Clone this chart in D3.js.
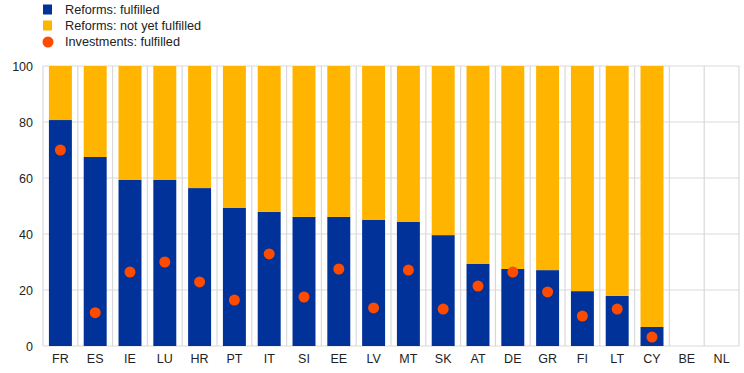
<!DOCTYPE html>
<html><head><meta charset="utf-8">
<script src="https://cdn.jsdelivr.net/npm/d3@7"></script>
<style>body{margin:0;background:#fff}svg{display:block;font-family:Arial,"Liberation Sans",sans-serif}</style>
</head><body><svg id="c" width="744" height="373"></svg>
<script>
const categories = ["FR","ES","IE","LU","HR","PT","IT","SI","EE","LV","MT","SK","AT","DE","GR","FI","LT","CY","BE","NL"];
const reformsFulfilled = [80.7,67.5,59.3,59.3,56.4,49.3,47.9,46.1,46.1,45.0,44.3,39.6,29.3,27.5,27.1,19.6,17.9,6.8,null,null];
const reformsNotYet = [19.3,32.5,40.7,40.7,43.6,50.7,52.1,53.9,53.9,55.0,55.7,60.4,70.7,72.5,72.9,80.4,82.1,93.2,null,null];
const investmentsFulfilled = [70.0,11.9,26.4,30.0,22.9,16.4,32.9,17.5,27.5,13.6,27.1,13.2,21.4,26.4,19.3,10.7,13.2,3.2,null,null];
const yTicks = [0,20,40,60,80,100];
const seriesNames = ["Reforms: fulfilled","Reforms: not yet fulfilled","Investments: fulfilled"];
const colors = ["#003299","#FFB400","#FF4B00"];

const svg = d3.select("#c");
const m = {l:43, r:5, t:66, b:27};
const W = 744, H = 373;
const x = d3.scaleBand().domain(categories).range([m.l, W-m.r]).paddingInner(0.34).paddingOuter(0.17);
const y = d3.scaleLinear().domain([0,100]).range([H-m.b, m.t]);
const grid = "#d9d9d9";

svg.append("g").selectAll("line").data(yTicks).join("line")
  .attr("x1", m.l).attr("x2", W-m.r).attr("y1", d=>y(d)).attr("y2", d=>y(d))
  .attr("stroke", grid).attr("stroke-width",1.2);
const step = x.step();
const bounds = d3.range(categories.length+1).map(i => m.l + i*step);
svg.append("g").selectAll("line").data(bounds).join("line")
  .attr("x1", d=>d).attr("x2", d=>d).attr("y1", y(0)).attr("y2", y(100))
  .attr("stroke", grid).attr("stroke-width",1.2);

const data = categories.map((c,i)=>({c, a:reformsFulfilled[i], b:reformsNotYet[i], inv:investmentsFulfilled[i]}));
const stack = d3.stack().keys(["a","b"]).value((d,k)=>d[k]||0)(data);
svg.append("g").selectAll("g").data(stack).join("g").attr("fill",(d,i)=>colors[i])
  .selectAll("rect").data(d=>d.filter(p=>p.data.a!=null)).join("rect")
  .attr("x", d=>x(d.data.c)).attr("width", x.bandwidth())
  .attr("y", d=>y(d[1])).attr("height", d=>y(d[0])-y(d[1]));

svg.append("g").selectAll("circle").data(data.filter(d=>d.inv!=null)).join("circle")
  .attr("cx", d=>x(d.c)+x.bandwidth()/2).attr("cy", d=>y(d.inv)).attr("r",5.5)
  .attr("fill", colors[2]);

const ya = svg.append("g").attr("transform",`translate(${m.l},0)`)
  .call(d3.axisLeft(y).tickValues(yTicks).tickSize(0).tickPadding(10));
ya.select(".domain").remove();
ya.selectAll("text").attr("font-size",12.5).attr("fill","#222").attr("font-family","Arial, 'Liberation Sans', sans-serif");
const xa = svg.append("g").attr("transform",`translate(0,${y(0)})`)
  .call(d3.axisBottom(x).tickSize(0).tickPadding(8));
xa.select(".domain").remove();
xa.selectAll("text").attr("font-size",12.5).attr("fill","#222").attr("font-family","Arial, 'Liberation Sans', sans-serif");

const lg = svg.append("g");
const ly = [9.5, 25.5, 42];
seriesNames.forEach((n,i)=>{
  if(i<2) lg.append("rect").attr("x",43).attr("y",ly[i]-5).attr("width",9).attr("height",10).attr("fill",colors[i]);
  else lg.append("circle").attr("cx",48).attr("cy",ly[i]).attr("r",5.5).attr("fill",colors[i]);
  lg.append("text").attr("x",65).attr("y",ly[i]).attr("dy","0.35em").attr("font-size",12.7).attr("fill","#222").text(n);
});
</script></body></html>
